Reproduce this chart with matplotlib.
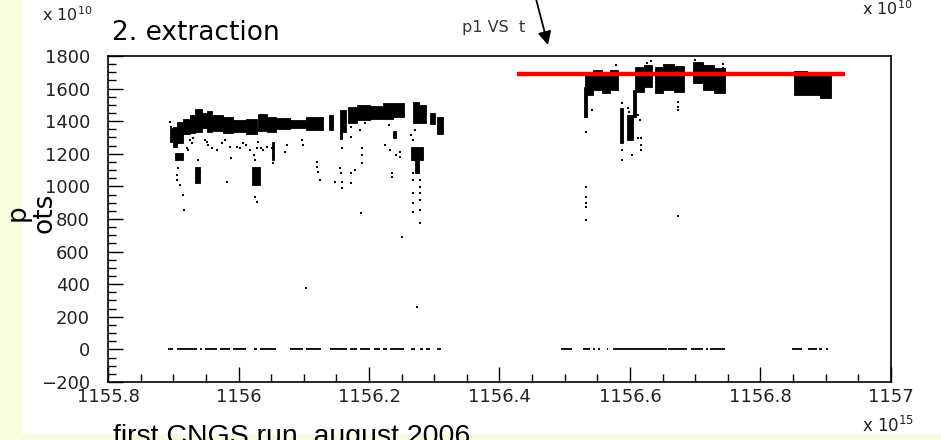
import matplotlib
matplotlib.use("Agg")
import matplotlib.pyplot as plt
from matplotlib.patches import Rectangle
from matplotlib.ticker import MultipleLocator

# ---------------- data (x in 1e15, y in 1e10) ----------------
# dense clusters of points: (start, end, lowest, highest)
band_x0 = [1155.895, 1155.900, 1155.906, 1155.915, 1155.926, 1155.933, 1155.944, 1155.951,
           1155.959, 1155.977, 1155.992, 1156.012, 1156.030, 1156.043, 1156.058, 1156.079,
           1156.104, 1156.138, 1156.155, 1156.168, 1156.181, 1156.202, 1156.222, 1156.237,
           1156.267, 1156.276, 1156.293, 1156.304,
           1155.903, 1155.934, 1156.020, 1156.265, 1156.271, 1156.051, 1156.156, 1156.237,
           1156.529, 1156.531, 1156.544, 1156.557, 1156.569, 1156.585, 1156.596, 1156.604,
           1156.607, 1156.621, 1156.638, 1156.651, 1156.667, 1156.696, 1156.712, 1156.728,
           1156.851, 1156.871, 1156.891]
band_x1 = [1155.900, 1155.906, 1155.915, 1155.926, 1155.933, 1155.944, 1155.951, 1155.959,
           1155.977, 1155.992, 1156.012, 1156.028, 1156.043, 1156.058, 1156.079, 1156.104,
           1156.130, 1156.145, 1156.165, 1156.181, 1156.202, 1156.222, 1156.237, 1156.253,
           1156.276, 1156.288, 1156.301, 1156.314,
           1155.915, 1155.941, 1156.033, 1156.283, 1156.276, 1156.055, 1156.159, 1156.241,
           1156.534, 1156.544, 1156.557, 1156.569, 1156.581, 1156.590, 1156.605, 1156.609,
           1156.621, 1156.633, 1156.651, 1156.667, 1156.683, 1156.712, 1156.728, 1156.746,
           1156.871, 1156.891, 1156.908]
band_lo = [1274, 1244, 1264, 1321, 1326, 1336, 1356, 1336,
           1342, 1326, 1336, 1321, 1342, 1336, 1350, 1356,
           1346, 1346, 1336, 1387, 1407, 1411, 1411, 1424,
           1387, 1387, 1383, 1321,
           1162, 1019, 1009, 1162, 1080, 1162, 1290, 1295,
           1428, 1561, 1591, 1571, 1591, 1264, 1285, 1428,
           1581, 1612, 1571, 1591, 1581, 1632, 1591, 1571,
           1561, 1561, 1540]
band_hi = [1356, 1366, 1397, 1411, 1438, 1473, 1452, 1465,
           1438, 1424, 1407, 1411, 1444, 1424, 1418, 1407,
           1424, 1438, 1469, 1489, 1499, 1493, 1510, 1514,
           1520, 1499, 1448, 1424,
           1203, 1121, 1121, 1244, 1162, 1274, 1340, 1340,
           1612, 1704, 1714, 1694, 1714, 1479, 1438, 1591,
           1735, 1745, 1735, 1751, 1739, 1765, 1745, 1724,
           1710, 1694, 1684]

# isolated points
dots_x = [1155.895, 1155.896, 1155.906, 1155.909, 1155.908, 1155.906, 1155.906, 1155.910, 1155.915, 1155.916,
          1155.921, 1155.923, 1155.926, 1155.928, 1155.931, 1155.938, 1155.941,
          1155.949, 1155.951, 1155.954, 1155.959, 1155.967, 1155.974, 1155.979, 1155.982, 1155.987,
          1155.989, 1155.997, 1156.002, 1156.007, 1156.012, 1156.018, 1156.023, 1156.025, 1156.028,
          1156.030, 1156.035, 1156.038, 1156.043, 1156.051, 1156.053, 1156.053, 1156.071, 1156.074,
          1156.097, 1156.099, 1156.120, 1156.121, 1156.122, 1156.125, 1156.148, 1156.156, 1156.157,
          1156.158, 1156.158, 1156.158, 1156.173, 1156.173, 1156.173, 1156.173, 1156.179, 1156.186,
          1156.189, 1156.189, 1156.189, 1156.194, 1156.224, 1156.230, 1156.232, 1156.235, 1156.235,
          1156.240, 1156.240, 1156.242, 1156.247, 1156.247, 1156.250, 1156.265, 1156.267, 1156.268,
          1156.268, 1156.268, 1156.268, 1156.268, 1156.271, 1156.273, 1156.278, 1156.278, 1156.278,
          1156.278, 1156.278, 1156.278, 1156.103, 1156.188, 1156.025, 1156.028,
          1156.532, 1156.532, 1156.532, 1156.532, 1156.532, 1156.532, 1156.532, 1156.532, 1156.542,
          1156.587, 1156.587, 1156.587, 1156.587, 1156.587, 1156.597, 1156.599, 1156.603, 1156.613,
          1156.615, 1156.613, 1156.617, 1156.617, 1156.617, 1156.673, 1156.673, 1156.673, 1156.674,
          1156.700, 1156.578, 1156.632, 1156.742, 1156.742, 1156.626]
dots_y = [1397, 1366, 1193, 1172, 1111, 1070, 1039, 1009, 947, 855,
          1234, 1223, 1285, 1264, 1295, 1162, 1090,
          1285, 1274, 1254, 1234, 1223, 1264, 1285, 1029, 1244,
          1172, 1244, 1234, 1264, 1254, 1223, 1193, 1162, 1234,
          1274, 1234, 1223, 1244, 1234, 1193, 1142, 1213, 1254,
          1285, 1254, 1152, 1121, 1090, 1039, 1029, 1111, 1080,
          1029, 988, 1234, 1366, 1305, 1080, 1019, 1101, 1346,
          1234, 1193, 1142, 1387, 1254, 1377, 1223, 1080, 1060,
          1336, 1305, 1193, 1182, 1213, 692, 1315, 1285, 1080,
          1039, 957, 896, 845, 1346, 262, 1039, 998, 957,
          917, 855, 773, 375, 839, 937, 906,
          1469, 1428, 1336, 998, 937, 896, 876, 794, 1469,
          1510, 1459, 1305, 1223, 1162, 1479, 1459, 1193, 1438,
          1407, 1295, 1295, 1254, 1223, 1520, 1489, 1469, 818,
          1776, 1745, 1771, 1751, 1724, 1755]

# runs of zero-intensity points
zero_x0 = [1155.892, 1155.906, 1155.941, 1155.949, 1155.972, 1155.992, 1156.023, 1156.033,
           1156.079, 1156.104, 1156.140, 1156.171, 1156.186, 1156.207, 1156.222, 1156.232,
           1156.265, 1156.278, 1156.288, 1156.304,
           1156.495, 1156.528, 1156.544, 1156.551, 1156.564, 1156.574, 1156.659, 1156.694,
           1156.717, 1156.723, 1156.848, 1156.873, 1156.889, 1156.901]
zero_x1 = [1155.900, 1155.936, 1155.944, 1155.967, 1155.987, 1156.012, 1156.028, 1156.058,
           1156.099, 1156.127, 1156.166, 1156.181, 1156.202, 1156.217, 1156.227, 1156.253,
           1156.271, 1156.283, 1156.293, 1156.311,
           1156.511, 1156.539, 1156.546, 1156.554, 1156.567, 1156.656, 1156.687, 1156.712,
           1156.720, 1156.746, 1156.863, 1156.886, 1156.894, 1156.903]
zero_y = 0

ref_level = 1688
ref_x0, ref_x1 = 1156.427, 1156.930

x_limits = (1155.8, 1157.0)
y_limits = (-200, 1800)

# ---------------- figure ----------------
W, H = 941, 440
fig = plt.figure(figsize=(W / 100, H / 100), dpi=100)
fig.patch.set_facecolor("white")

yellow = "#f9fde0"
fig.patches.append(Rectangle((0, 0), 22 / W, 1, transform=fig.transFigure,
                             facecolor=yellow, edgecolor="none", zorder=0))
fig.patches.append(Rectangle((0, 0), 1, 6 / H, transform=fig.transFigure,
                             facecolor=yellow, edgecolor="none", zorder=0))

ax = fig.add_axes([108 / W, 1 - 382 / H, (891 - 108) / W, (382 - 56) / H])
ax.set_facecolor("white")

for x0, x1, lo, hi in zip(band_x0, band_x1, band_lo, band_hi):
    ax.bar(x0, hi - lo, width=x1 - x0, bottom=lo, align="edge",
           color="black", edgecolor="black", linewidth=0.6)

ax.scatter(dots_x, dots_y, s=3, marker="s", color="black", linewidths=0)
ax.hlines([zero_y] * len(zero_x0), zero_x0, zero_x1, color="black", linewidth=1.3)
ax.hlines(ref_level, ref_x0, ref_x1, color="red", linewidth=3.2, zorder=5)

ax.set_xlim(*x_limits)
ax.set_ylim(*y_limits)

ax.xaxis.set_major_locator(MultipleLocator(0.2))
ax.xaxis.set_minor_locator(MultipleLocator(0.05))
ax.yaxis.set_major_locator(MultipleLocator(200))
ax.yaxis.set_minor_locator(MultipleLocator(50))
ax.xaxis.set_major_formatter(plt.FuncFormatter(lambda v, p: f"{v:g}"))
ax.yaxis.set_major_formatter(plt.FuncFormatter(lambda v, p: f"{v:g}".replace("-", "\u2212")))

ax.tick_params(axis="both", which="both", direction="in", top=False, right=False,
               colors="black", labelcolor="#222222", labelsize=13)
ax.tick_params(axis="both", which="major", length=10.5, width=1.0)
ax.tick_params(axis="both", which="minor", length=6, width=1.0)
ax.tick_params(axis="y", pad=13)
ax.tick_params(axis="x", pad=4)
for s in ax.spines.values():
    s.set_linewidth(1.2)

# ---------------- texts ----------------
fig.text(42 / W, 1 - 21 / H, r"x 10$^{10}$", fontsize=11.5, color="#222222", va="baseline")
fig.text(112 / W, 1 - 40 / H, "2. extraction", fontsize=19, color="black", va="baseline",
         family="DejaVu Sans")
fig.text(462 / W, 1 - 32 / H, "p1 VS  t", fontsize=11.5, color="#333333", va="baseline")
fig.text(862 / W, 1 - 15 / H, r"x 10$^{10}$", fontsize=11.5, color="#222222", va="baseline")
fig.text(862 / W, 1 - 432 / H, r"x 10$^{15}$", fontsize=12, color="#222222", va="baseline")
fig.text(31 / W, 1 - 213 / H, "p\nots", rotation=90, fontsize=19, ha="center", va="center",
         multialignment="center", linespacing=1.05, color="black")
fig.text(113 / W, 1 - 444 / H, "first CNGS run, august 2006", fontsize=20.5,
         family="Liberation Sans", color="black", va="baseline")

ax.annotate("", xy=(548 / W, 1 - 45 / H), xycoords="figure fraction",
            xytext=(534 / W, 1.02), textcoords="figure fraction",
            arrowprops=dict(arrowstyle="-|>", mutation_scale=20, color="black", lw=1.3,
                            shrinkA=0, shrinkB=0),
            annotation_clip=False)

fig.savefig("out.png", dpi=100)
